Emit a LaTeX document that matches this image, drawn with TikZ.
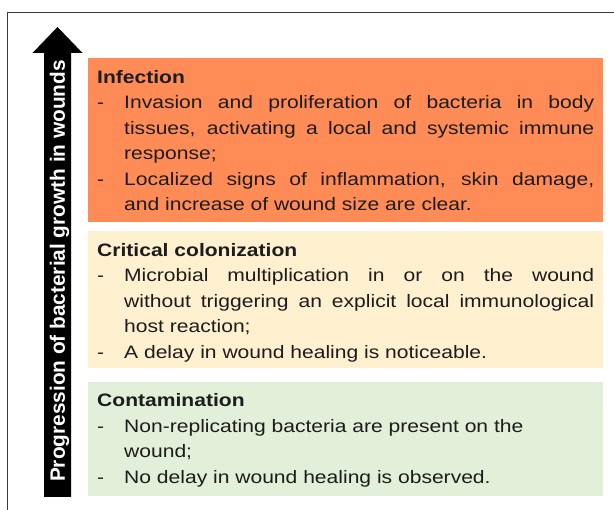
\documentclass[tikz,border=0pt]{standalone}
\usepackage{fontspec}
\setmainfont{Liberation Sans}
\newfontfamily\boxfont[FakeStretch=1.17]{Liberation Sans}
\usetikzlibrary{positioning}
\definecolor{InfectFill}{HTML}{FF8C57}
\definecolor{CritFill}{HTML}{FFF0D0}
\definecolor{ContamFill}{HTML}{E2EFD9}
\definecolor{TextDark}{HTML}{1C1C1C}
\definecolor{FrameGray}{HTML}{3A3A3A}
\newcommand{\dashitem}[1]{\par\hangindent=27pt\hangafter=1\noindent\makebox[27pt][l]{-}#1\par}
\hyphenpenalty=10000
\exhyphenpenalty=10000
\hbadness=10000

\begin{document}
\begin{tikzpicture}[
  x=1pt,y=1pt,
  every node/.style={inner sep=0pt},
  stagebox/.style={minimum width=515pt,anchor=north west},
  stagetext/.style={text width=497pt,align=justify,text=TextDark,font=\boxfont\fontsize{18pt}{25.5pt}\selectfont},
  growthlabel/.style={text=white,font=\bfseries\fontsize{20.8pt}{25pt}\selectfont,rotate=90}
]
\useasboundingbox (0,0) rectangle (614,510);
\draw[FrameGray,line width=0.9pt] (7,0) -- (7,498) -- (614,498);
% progression arrow
\fill[black] (44,13) -- (44,457) -- (32.5,457) -- (57.5,483) -- (82.5,457) -- (71,457) -- (71,13) -- cycle;
\node[growthlabel] (growth) at (59.5,239) {Progression of bacterial growth in wounds};
% stage boxes
\node[stagebox,fill=InfectFill,minimum height=164pt] (infect) at (88,452) {};
\node[stagebox,fill=CritFill,minimum height=137pt,below=8pt of infect] (crit) {};
\node[stagebox,fill=ContamFill,minimum height=114pt,below=14pt of crit] (contam) {};
\node[stagetext,below right=12pt and 9pt of infect.north west] (infecttext) {%
  \noindent\textbf{Infection}%
  \dashitem{Invasion and proliferation of bacteria in body\linebreak tissues, activating a local and systemic immune\linebreak response;}%
  \dashitem{Localized signs of inflammation, skin damage,\linebreak and increase of wound size are clear.}};
\node[stagetext,below right=12.5pt and 9pt of crit.north west] (crittext) {%
  \noindent\textbf{Critical colonization}%
  \dashitem{Microbial multiplication in or on the wound\linebreak without triggering an explicit local immunological\linebreak host reaction;}%
  \dashitem{A delay in wound healing is noticeable.}};
\node[stagetext,below right=11.5pt and 9pt of contam.north west] (contamtext) {%
  \noindent\textbf{Contamination}%
  \dashitem{Non-replicating bacteria are present on the\newline wound;}%
  \dashitem{No delay in wound healing is observed.}};
\end{tikzpicture}
\end{document}
